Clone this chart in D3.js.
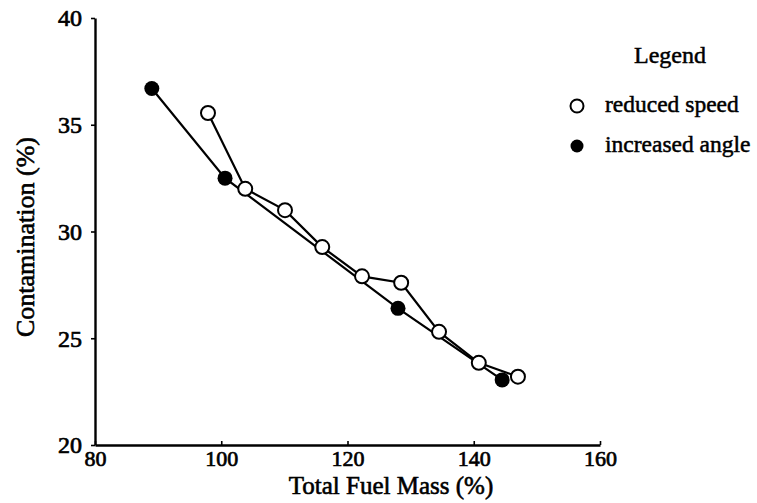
<!DOCTYPE html>
<html><head><meta charset="utf-8">
<script src="https://cdn.jsdelivr.net/npm/d3@7"></script>
<style>body{margin:0;background:#fff}svg{display:block}text{font-family:"Liberation Serif","DejaVu Serif",serif;fill:#000}</style>
</head><body><div id="chart"></div>
<script>
const xTicks = [80, 100, 120, 140, 160];
const yTicks = [20, 25, 30, 35, 40];
const reducedX = [97.9, 103.8, 110.1, 116.0, 122.3, 128.5, 134.5, 140.8, 147.0];
const reducedY = [35.55, 32.0, 31.0, 29.27, 27.9, 27.6, 25.3, 23.85, 23.2];
const angleX = [89.0, 100.6, 128.0, 144.5];
const angleY = [36.7, 32.5, 26.4, 23.05];
const legendLabels = ["reduced speed", "increased angle"];

const W = 757, H = 503;
const svg = d3.select("#chart").append("svg").attr("width", W).attr("height", H);
const x = d3.scaleLinear().domain([80, 160]).range([95, 600]);
const y = d3.scaleLinear().domain([20, 40]).range([445, 18]);

const xAxis = svg.append("g").attr("transform", `translate(0,${y(20)})`)
  .call(d3.axisBottom(x).tickValues(xTicks).tickSize(-4).tickPadding(10).tickSizeOuter(0));
const yAxis = svg.append("g").attr("transform", `translate(${x(80)},0)`)
  .call(d3.axisLeft(y).tickValues(yTicks).tickSize(4).tickPadding(9).tickSizeOuter(0));
[xAxis, yAxis].forEach(g => {
  g.select(".domain").attr("stroke", "#000").attr("stroke-width", 2.4);
  g.selectAll(".tick line").attr("stroke", "#000").attr("stroke-width", 1.6);
  g.selectAll(".tick text").attr("font-family", "Liberation Serif")
    .attr("fill", "#000").attr("stroke", "#000").attr("stroke-width", 0.7);
});
xAxis.selectAll(".tick text").attr("font-size", 22).attr("y", 21).attr("dy", 0);
yAxis.selectAll(".tick text").attr("font-size", 24).attr("dy", "0.33em");

svg.append("text").attr("x", 391).attr("y", 494).attr("text-anchor", "middle")
  .attr("font-size", 25).attr("stroke", "#000").attr("stroke-width", 0.6).text("Total Fuel Mass (%)");
svg.append("text").attr("transform", "translate(34,237) rotate(-90)").attr("text-anchor", "middle")
  .attr("font-size", 26).attr("stroke", "#000").attr("stroke-width", 0.6).text("Contamination (%)");

const line = d3.line().x(d => x(d[0])).y(d => y(d[1]));
const reduced = reducedX.map((v, i) => [v, reducedY[i]]);
const angle = angleX.map((v, i) => [v, angleY[i]]);

svg.append("path").datum(angle).attr("d", line).attr("fill", "none").attr("stroke", "#000").attr("stroke-width", 2.2);
svg.append("path").datum(reduced).attr("d", line).attr("fill", "none").attr("stroke", "#000").attr("stroke-width", 2.2);

svg.selectAll("circle.angle").data(angle).enter().append("circle").attr("class", "angle")
  .attr("cx", d => x(d[0])).attr("cy", d => y(d[1])).attr("r", 7.5).attr("fill", "#000");
svg.selectAll("circle.red").data(reduced).enter().append("circle").attr("class", "red")
  .attr("cx", d => x(d[0])).attr("cy", d => y(d[1])).attr("r", 7).attr("fill", "#fff")
  .attr("stroke", "#000").attr("stroke-width", 2);

// legend
svg.append("text").attr("x", 670).attr("y", 63).attr("text-anchor", "middle")
  .attr("font-size", 24).attr("stroke", "#000").attr("stroke-width", 0.5).text("Legend");
svg.append("circle").attr("cx", 577).attr("cy", 106).attr("r", 6.5).attr("fill", "#fff").attr("stroke", "#000").attr("stroke-width", 2);
svg.append("circle").attr("cx", 577).attr("cy", 146).attr("r", 6.5).attr("fill", "#000");
legendLabels.forEach((t, i) => {
  svg.append("text").attr("x", 605).attr("y", 112 + i * 40).attr("font-size", 23.5)
    .attr("stroke", "#000").attr("stroke-width", 0.5).text(t);
});
</script></body></html>
